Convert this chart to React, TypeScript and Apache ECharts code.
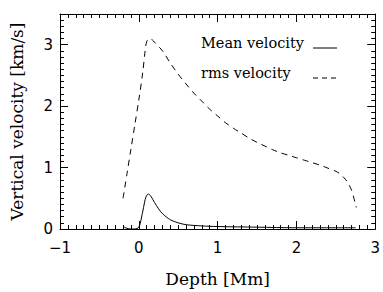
import React, { useEffect, useRef } from "react";
import * as echarts from "echarts";

const rmsDepth = [-0.2, -0.15, -0.1, -0.05, 0, 0.05, 0.08, 0.1, 0.13, 0.17, 0.2, 0.3, 0.4, 0.5, 0.6, 0.7, 0.8, 0.9, 1.0, 1.1, 1.2, 1.3, 1.4, 1.5, 1.6, 1.7, 1.8, 1.9, 2.0, 2.1, 2.2, 2.3, 2.4, 2.5, 2.55, 2.6, 2.65, 2.7, 2.73, 2.76];
const rmsVel = [0.5, 0.9, 1.3, 1.7, 2.1, 2.55, 2.9, 3.05, 3.1, 3.08, 3.04, 2.9, 2.7, 2.52, 2.36, 2.21, 2.08, 1.95, 1.84, 1.73, 1.64, 1.56, 1.48, 1.41, 1.35, 1.29, 1.24, 1.2, 1.16, 1.12, 1.08, 1.04, 0.99, 0.94, 0.9, 0.84, 0.76, 0.63, 0.5, 0.35];

const meanDepth = [-0.2, -0.15, -0.1, -0.05, 0, 0.03, 0.06, 0.09, 0.12, 0.15, 0.2, 0.25, 0.3, 0.4, 0.5, 0.6, 0.8, 1.0, 1.5, 2.0, 2.5, 2.75];
const meanVel = [0.04, 0.01, 0.0, 0.0, 0.03, 0.16, 0.35, 0.52, 0.57, 0.54, 0.43, 0.33, 0.25, 0.15, 0.1, 0.07, 0.05, 0.04, 0.03, 0.02, 0.02, 0.02];

const xRange = [-1, 3];
const yRange = [0, 3.5];
const legendLabels = ["Mean velocity", "rms velocity"];
const xTitle = "Depth [Mm]";
const yTitle = "Vertical velocity [km/s]";

const SERIF = "DejaVu Serif";
const SANS = "DejaVu Sans";

function axisCommon(showLabel: boolean) {
  return {
    axisLine: { show: true, onZero: false, lineStyle: { color: "#000", width: 1 } },
    axisTick: { show: true, inside: true, length: 8, lineStyle: { color: "#000", width: 1 } },
    minorTick: { show: true, splitNumber: 10, length: 4, lineStyle: { color: "#000", width: 1 } },
    splitLine: { show: false },
    minorSplitLine: { show: false },
    axisLabel: {
      show: showLabel,
      color: "#000",
      fontFamily: SANS,
      fontSize: 15,
      formatter: (v: number) => String(v).replace("-", "\u2212"),
    },
  };
}

export default function App() {
  const ref = useRef<HTMLDivElement>(null);
  useEffect(() => {
    if (!ref.current) return;
    const chart = echarts.init(ref.current, null, { renderer: "svg" });
    const xBase = axisCommon(true);
    const yBase = axisCommon(true);
    chart.setOption({
      animation: false,
      backgroundColor: "#fff",
      grid: { left: 55, right: 6, top: 14, bottom: 52, containLabel: false },
      xAxis: [
        {
          type: "value",
          position: "bottom",
          min: xRange[0],
          max: xRange[1],
          interval: 1,
          ...xBase,
          axisLabel: { ...xBase.axisLabel, margin: 11 },
          name: xTitle,
          nameLocation: "middle",
          nameGap: 41,
          nameTextStyle: { color: "#000", fontFamily: SERIF, fontSize: 17 },
        },
        {
          type: "value",
          position: "top",
          min: xRange[0],
          max: xRange[1],
          interval: 1,
          ...axisCommon(false),
        },
      ],
      yAxis: [
        {
          type: "value",
          position: "left",
          min: yRange[0],
          max: yRange[1],
          interval: 1,
          ...yBase,
          axisLabel: { ...yBase.axisLabel, margin: 7, showMaxLabel: false },
          name: yTitle,
          nameLocation: "middle",
          nameGap: 35,
          nameTextStyle: { color: "#000", fontFamily: SERIF, fontSize: 17 },
        },
        {
          type: "value",
          position: "right",
          min: yRange[0],
          max: yRange[1],
          interval: 1,
          ...axisCommon(false),
        },
      ],
      series: [
        {
          name: legendLabels[0],
          type: "line",
          data: meanDepth.map((d, i) => [d, meanVel[i]]),
          showSymbol: false,
          symbol: "none",
          smooth: 0.3,
          lineStyle: { color: "#000", width: 1 },
        },
        {
          name: legendLabels[1],
          type: "line",
          data: rmsDepth.map((d, i) => [d, rmsVel[i]]),
          showSymbol: false,
          symbol: "none",
          smooth: 0.3,
          lineStyle: { color: "#000", width: 1, type: [6, 5] },
        },
      ],
      graphic: [
        {
          type: "text",
          left: 201,
          top: 35,
          style: { text: legendLabels[0], fill: "#000", font: `14.5px "${SERIF}"` },
        },
        {
          type: "line",
          shape: { x1: 313, y1: 48, x2: 337, y2: 48 },
          style: { stroke: "#000", lineWidth: 1 },
        },
        {
          type: "text",
          left: 201,
          top: 65,
          style: { text: legendLabels[1], fill: "#000", font: `14.5px "${SERIF}"` },
        },
        {
          type: "line",
          shape: { x1: 313, y1: 78, x2: 337, y2: 78 },
          style: { stroke: "#000", lineWidth: 1, lineDash: [5, 4] },
        },
      ],
    });
    return () => chart.dispose();
  }, []);
  return <div ref={ref} style={{ width: 383, height: 292, position: "absolute", left: 0, top: 0 }} />;
}
